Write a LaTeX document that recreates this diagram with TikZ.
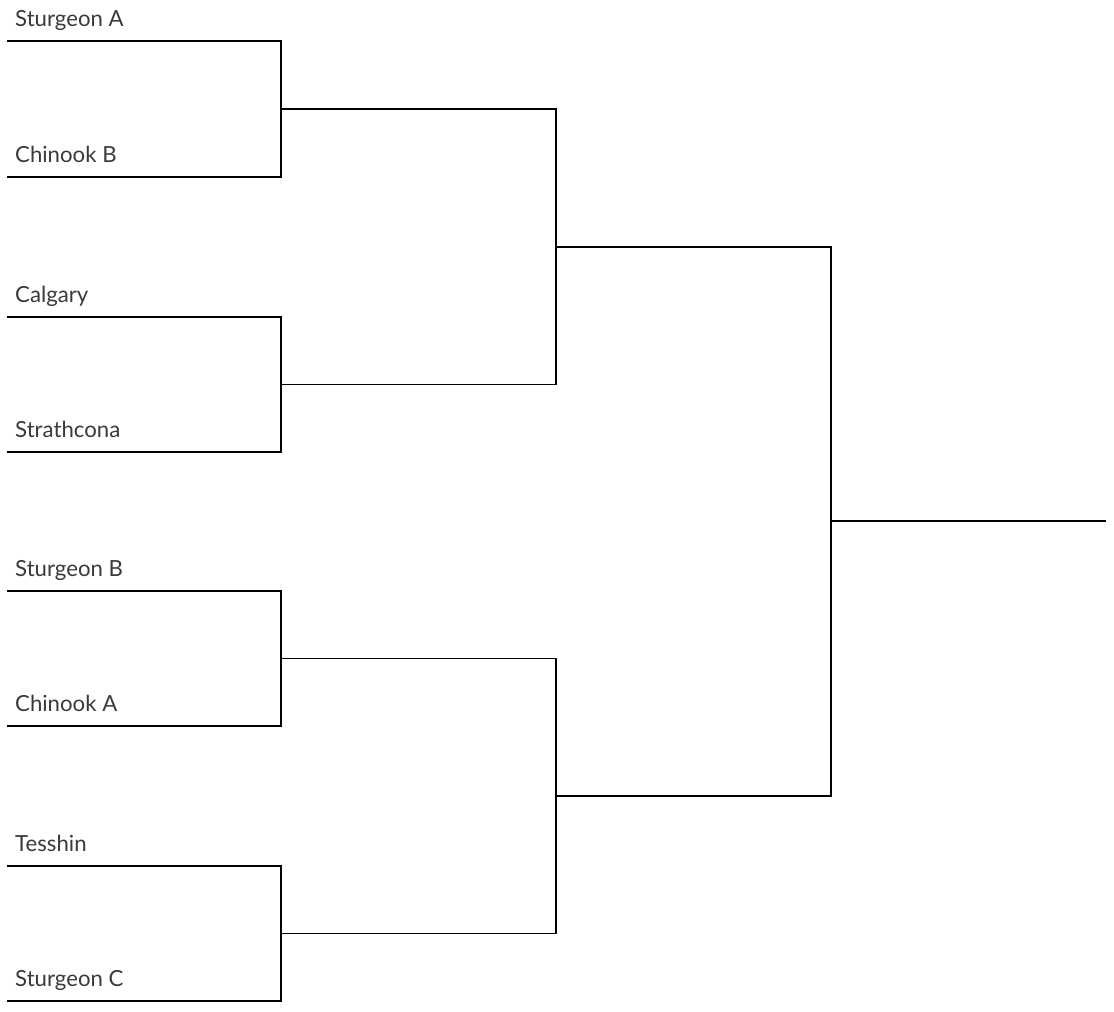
\documentclass[tikz,border=0pt]{standalone}
\usepackage{fontspec}
\setmainfont{Lato}
\usepackage{tikz}
\definecolor{teamgray}{HTML}{3A3A3A}

\begin{document}
\begin{tikzpicture}[x=1pt, y=-1pt,
    team/.style={anchor=base west, inner sep=0pt, text=teamgray,
      font=\fontsize{22.2}{27}\selectfont},
    bracket/.style={line width=1.9pt, line cap=rect}]
  \useasboundingbox (0,0) rectangle (1114,1012);
  % Equipas (primeira ronda)
  \foreach \i/\y/\nome in {1/41/Sturgeon A, 2/177/Chinook B, 3/317/Calgary,
      4/452/Strathcona, 5/591/Sturgeon B, 6/726/Chinook A, 7/866/Tesshin,
      8/1001/Sturgeon C} {
    \coordinate (t\i) at (8,\y);
    \node[team] (n\i) at (15,\y-15) {\nome};
    \draw[bracket] (t\i) -- ++(273,0) coordinate (e\i);
  }
  % Quartos de final
  \foreach \a/\b/\k in {1/2/1, 3/4/2, 5/6/3, 7/8/4} {
    \draw[bracket] (e\a) -- coordinate (q\k) (e\b);
    \draw[bracket] (q\k) -- ++(275,0) coordinate (r\k);
  }
  % Meias-finais
  \foreach \a/\b/\k in {1/2/1, 3/4/2} {
    \draw[bracket] (r\a) -- coordinate (s\k) (r\b);
    \draw[bracket] (s\k) -- ++(275,0) coordinate (u\k);
  }
  % Final
  \draw[bracket] (u1) -- coordinate (fin) (u2);
  \draw[bracket] (fin) -- ++(274,0) coordinate (win);
\end{tikzpicture}
\end{document}
